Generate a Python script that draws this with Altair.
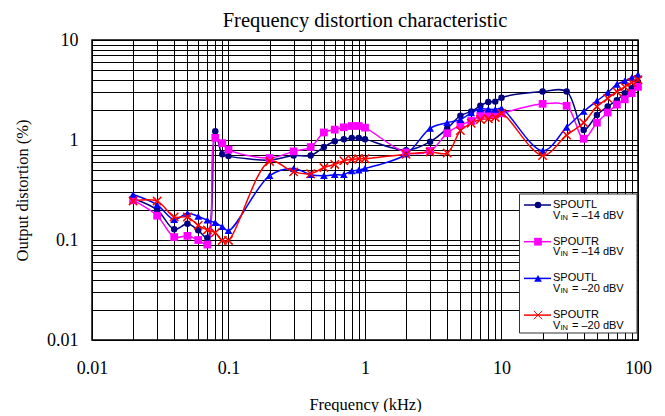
import altair as alt
import pandas as pd

freq = [0.02, 0.03, 0.04, 0.05, 0.06, 0.07, 0.08, 0.09, 0.1,
        0.2, 0.3, 0.4, 0.5, 0.6, 0.7, 0.8, 0.9, 1,
        2, 3, 4, 5, 6, 7, 8, 9, 10,
        20, 30, 40, 50, 60, 70, 80, 90, 100]

spoutl_14 = [0.26, 0.20, 0.128, 0.145, 0.125, 0.105, 1.22, 0.72, 0.69,
             0.63, 0.70, 0.70, 0.85, 0.97, 1.02, 1.05, 1.05, 1.02,
             0.79, 0.96, 1.30, 1.75, 1.93, 2.20, 2.40, 2.42, 2.65,
             3.05, 3.05, 1.26, 1.78, 2.16, 2.50, 2.94, 3.30, 3.80]
spoutr_14 = [0.25, 0.175, 0.107, 0.11, 0.10, 0.09, 1.05, 0.93, 0.80,
             0.66, 0.77, 0.85, 1.19, 1.27, 1.34, 1.38, 1.38, 1.33,
             0.75, 0.78, 1.17, 1.41, 1.55, 1.75, 1.82, 1.80, 1.85,
             2.30, 2.20, 1.03, 1.49, 1.88, 2.26, 2.55, 2.94, 3.40]
spoutl_20 = [0.285, 0.225, 0.16, 0.185, 0.172, 0.158, 0.149, 0.136, 0.124,
             0.44, 0.52, 0.45, 0.44, 0.45, 0.45, 0.49, 0.50, 0.52,
             0.72, 1.31, 1.49, 1.60, 1.87, 2.05, 2.03, 2.02, 2.07,
             0.78, 1.34, 1.93, 2.46, 2.97, 3.60, 3.90, 4.20, 4.50]
spoutr_20 = [0.245, 0.245, 0.17, 0.17, 0.14, 0.126, 0.118, 0.099, 0.099,
             0.61, 0.48, 0.46, 0.53, 0.57, 0.62, 0.64, 0.65, 0.65,
             0.72, 0.76, 0.74, 1.24, 1.47, 1.60, 1.63, 1.68, 1.85,
             0.70, 1.12, 1.49, 2.16, 2.61, 3.04, 3.40, 3.75, 4.00]

series_keys = ["L14", "R14", "L20", "R20"]
series_names = ["SPOUTL", "SPOUTR", "SPOUTL", "SPOUTR"]
series_levels = ["= \u201314 dBV", "= \u201314 dBV", "= \u201320 dBV", "= \u201320 dBV"]
series_values = [spoutl_14, spoutr_14, spoutl_20, spoutr_20]
colors = ["#000080", "#FF00FF", "#0000FF", "#FF0000"]
shapes = ["circle", "square", "triangle-up", "M-1,-1L1,1M-1,1L1,-1"]
sizes = [42, 60, 60, 70]
filled = [True, True, True, False]

x_ticks = [round(k * 10 ** e, 10) for e in range(-2, 2) for k in range(1, 10)] + [100]
y_ticks = [round(k * 10 ** e, 10) for e in range(-2, 1) for k in range(1, 10)] + [10]

rows = []
for key, vals in zip(series_keys, series_values):
    for f, v in zip(freq, vals):
        rows.append({"freq": f, "dist": v, "series": key})
df = pd.DataFrame(rows)

label_expr = ("indexof(['0.01','0.1','1','10','100'], format(datum.value, '~g')) >= 0"
              " ? format(datum.value, '~g') : ''")

xenc = alt.X("freq:Q",
             scale=alt.Scale(type="log", domain=[0.01, 100], nice=False),
             axis=alt.Axis(values=x_ticks, labelExpr=label_expr, title="Frequency (kHz)",
                           grid=True, ticks=False, labelPadding=19, titlePadding=19,
                           labelFlush=False, labelOverlap=False))
yenc = alt.Y("dist:Q",
             scale=alt.Scale(type="log", domain=[0.01, 10], nice=False),
             axis=alt.Axis(values=y_ticks, labelExpr=label_expr, title="Output distortion (%)",
                           grid=True, ticks=False, labelPadding=14, titlePadding=16,
                           labelFlush=False, labelOverlap=False))

layers = []
for i, key in enumerate(series_keys):
    sub = df[df.series == key]
    layers.append(
        alt.Chart(sub).mark_line(interpolate="catmull-rom", strokeWidth=1.5,
                                 color=colors[i], clip=True).encode(x=xenc, y=yenc)
    )
for i, key in enumerate(series_keys):
    sub = df[df.series == key]
    if filled[i]:
        pm = alt.Chart(sub).mark_point(shape=shapes[i], filled=True, fill=colors[i],
                                       size=sizes[i], opacity=1)
    else:
        pm = alt.Chart(sub).mark_point(shape=shapes[i], filled=False, stroke=colors[i],
                                       strokeWidth=1.5, size=sizes[i], opacity=1)
    layers.append(pm.encode(x=xenc, y=yenc))

# legend (drawn in plot-pixel coordinates)
dummy = pd.DataFrame({"a": [0]})
layers.append(
    alt.Chart(dummy).mark_rect(fill="white", stroke="#333333", strokeWidth=1).encode(
        x=alt.value(427.5), x2=alt.value(545), y=alt.value(154), y2=alt.value(293))
)
for i in range(4):
    y0 = 165 + i * 36.7
    layers.append(alt.Chart(dummy).mark_rule(color=colors[i], strokeWidth=1.5).encode(
        x=alt.value(432), x2=alt.value(459), y=alt.value(y0)))
    if filled[i]:
        lm = alt.Chart(dummy).mark_point(shape=shapes[i], filled=True, fill=colors[i],
                                         size=sizes[i], opacity=1)
    else:
        lm = alt.Chart(dummy).mark_point(shape=shapes[i], filled=False, stroke=colors[i],
                                         strokeWidth=1, size=sizes[i], opacity=1)
    layers.append(lm.encode(x=alt.value(446), y=alt.value(y0)))
    layers.append(alt.Chart(dummy).mark_text(align="left", baseline="middle", font="Liberation Sans",
                                             fontSize=11, color="black").encode(
        x=alt.value(461), y=alt.value(y0), text=alt.value(series_names[i])))
    layers.append(alt.Chart(dummy).mark_text(align="left", baseline="middle", font="Liberation Sans",
                                             fontSize=11, color="black").encode(
        x=alt.value(461), y=alt.value(y0 + 10.5), text=alt.value("V")))
    layers.append(alt.Chart(dummy).mark_text(align="left", baseline="middle", font="Liberation Sans",
                                             fontSize=7.5, color="black").encode(
        x=alt.value(468.5), y=alt.value(y0 + 12.5), text=alt.value("IN")))
    layers.append(alt.Chart(dummy).mark_text(align="left", baseline="middle", font="Liberation Sans",
                                             fontSize=11, color="black").encode(
        x=alt.value(480), y=alt.value(y0 + 10.5), text=alt.value(series_levels[i])))

chart = alt.layer(*layers).properties(
    width=546, height=300,
    title=alt.TitleParams("Frequency distortion characteristic", font="Liberation Serif",
                          fontSize=20.5, fontWeight="normal", color="black", offset=0),
    autosize=alt.AutoSizeParams(type="none"),
    padding={"left": 84, "top": 32, "right": 19, "bottom": 72},
    background="white",
).configure_view(
    stroke="black", strokeWidth=1.5
).configure_axis(
    domain=False, gridColor="black", gridOpacity=1, gridWidth=1,
    labelFont="Liberation Serif", labelFontSize=18, labelColor="black",
    titleFont="Liberation Serif", titleFontSize=16.5, titleFontWeight="normal", titleColor="black"
)

chart.save("out.html", embed_options={"renderer": "svg", "actions": False})
